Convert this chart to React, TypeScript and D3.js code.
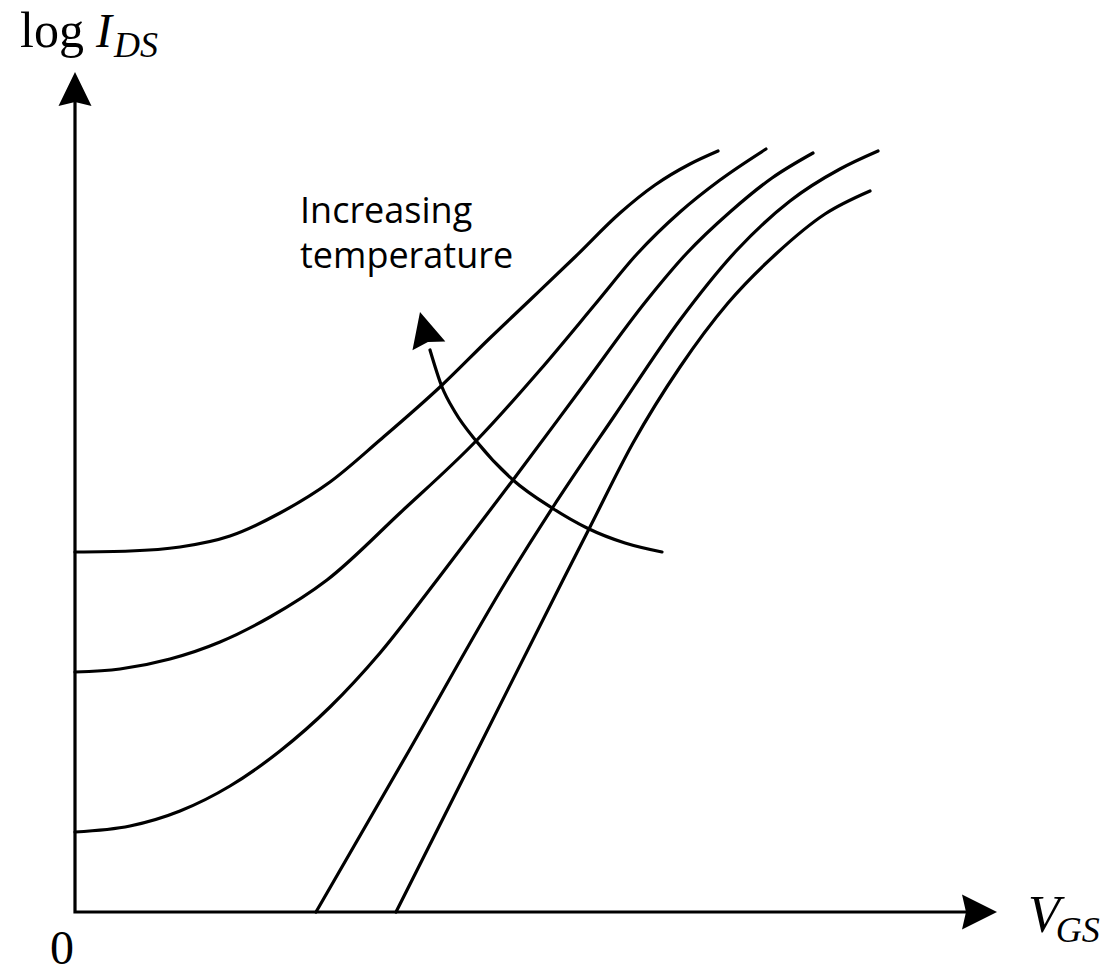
import React from "react";
import * as d3 from "d3";

// Diagram units: x = V_GS (arbitrary), y = log I_DS (arbitrary)
const curve1X = [0, 5.5, 10.5, 15.5, 20.5, 25.5, 30.5, 36.5, 41.5, 45.5, 50, 54.5, 58, 61.5, 64.3];
const curve1Y = [36, 36.1, 36.5, 37.6, 39.9, 43, 47.2, 52.5, 57.4, 61.2, 65.5, 69.9, 72.7, 74.8, 76.1];

const curve2X = [0, 4.5, 9.5, 14.5, 19.5, 25.2, 32.5, 40.2, 46.5, 52.2, 56.2, 60.5, 64.5, 69.1];
const curve2Y = [24, 24.3, 25.3, 27, 29.5, 33.2, 39.9, 47.2, 54.2, 61, 65.8, 70, 73.2, 76.3];

const curve3X = [0, 5.5, 10.5, 15.5, 20.5, 25.5, 30.5, 36.2, 43.8, 50.5, 57.2, 61.2, 65.5, 69.7, 73.8];
const curve3Y = [8, 8.6, 10.1, 12.6, 16.1, 20.5, 25.9, 33.2, 43.2, 52.2, 61.2, 65.9, 70, 73.4, 75.9];

const curve4X = [24.1, 33.5, 43.2, 47.8, 54, 60.5, 66.2, 71.5, 76.5, 80.3];
const curve4Y = [0, 16.3, 33.2, 40.5, 49.7, 59.2, 66.2, 71.1, 74.3, 76.1];

const curve5X = [32.1, 40.5, 48.8, 51.5, 55.8, 60.5, 65.3, 70.2, 75, 79.5];
const curve5Y = [0, 16.7, 33.2, 38.5, 46.9, 54.5, 60.9, 65.9, 69.8, 72.1];

// "Increasing temperature" arc arrow (ordered by increasing x)
const arcX = [35.5, 36.7, 38, 40.2, 43.8, 47.7, 51.2, 55, 58.7];
const arcY = [56.2, 52.5, 50, 47, 43.2, 40.4, 38.4, 36.9, 36];
const arcTip = [34.5, 60];

const xMax = 92.2;
const yMax = 84;

const annotationLines = ["Increasing", "temperature"];

const W = 1107;
const H = 974;

export default function App() {
  const x = d3.scaleLinear().domain([0, xMax]).range([75, 997]);
  const y = d3.scaleLinear().domain([0, yMax]).range([912, 72]);

  const line = d3
    .line<[number, number]>()
    .x((d) => x(d[0]))
    .y((d) => y(d[1]))
    .curve(d3.curveMonotoneX);

  const curves = [
    [curve1X, curve1Y],
    [curve2X, curve2Y],
    [curve3X, curve3Y],
    [curve4X, curve4Y],
    [curve5X, curve5Y],
  ].map(([xs, ys]) => xs.map((v, i) => [v, ys[i]] as [number, number]));

  const arcPts = arcX.map((v, i) => [v, arcY[i]] as [number, number]);

  const arrowHead = (tx: number, ty: number, dx: number, dy: number, len: number, half: number) => {
    const n = Math.hypot(dx, dy);
    const ux = dx / n;
    const uy = dy / n;
    const px = -uy;
    const py = ux;
    const bx = tx - ux * len;
    const by = ty - uy * len;
    const nx = tx - ux * (len - 4);
    const ny = ty - uy * (len - 4);
    return `M${tx},${ty} L${bx + px * half},${by + py * half} L${nx},${ny} L${bx - px * half},${by - py * half} Z`;
  };

  const ox = x(0);
  const oy = y(0);
  const tipArc = [x(arcTip[0]), y(arcTip[1])];
  const firstArc = arcPts[0];

  return (
    <div style={{ position: "absolute", left: 0, top: 0 }}>
      <svg width={W} height={H} style={{ display: "block", background: "#fff" }}>
        {/* axes */}
        <path
          d={`M${ox},${y(yMax) + 30} L${ox},${oy} L${x(xMax) - 30},${oy}`}
          fill="none"
          stroke="#000"
          strokeWidth={3.2}
          strokeLinejoin="miter"
        />
        <path d={arrowHead(ox, y(yMax), 0, -1, 34, 16.5)} fill="#000" />
        <path d={arrowHead(x(xMax), oy, 1, 0, 35, 17.5)} fill="#000" />

        {/* curves */}
        {curves.map((c, i) => (
          <path key={i} d={line(c) || ""} fill="none" stroke="#000" strokeWidth={3.2} strokeLinecap="round" />
        ))}

        {/* arc arrow */}
        <path d={line(arcPts) || ""} fill="none" stroke="#000" strokeWidth={3.2} strokeLinecap="round" />
        <path
          d={arrowHead(
            tipArc[0],
            tipArc[1],
            tipArc[0] - x(firstArc[0]),
            tipArc[1] - y(firstArc[1]),
            35,
            17
          )}
          fill="#000"
        />

        {/* annotation */}
        <text fontFamily="'Open Sans', sans-serif" fontSize={36} fill="#000">
          <tspan x={300} y={223}>
            {annotationLines[0]}
          </tspan>
          <tspan x={300} y={268}>
            {annotationLines[1]}
          </tspan>
        </text>

        {/* axis labels */}
        <text x={20} y={47} fontFamily="'Liberation Serif', serif" fontSize={50} fill="#000">
          log
          <tspan dx={12} fontStyle="italic" fontSize={48}>
            I
          </tspan>
          <tspan dy={10} dx={2} fontStyle="italic" fontSize={36}>
            DS
          </tspan>
        </text>
        <text x={1028} y={932} fontFamily="'Liberation Serif', serif" fill="#000">
          <tspan fontStyle="italic" fontSize={52}>
            V
          </tspan>
          <tspan dy={10} dx={-4} fontStyle="italic" fontSize={36}>
            GS
          </tspan>
        </text>
        <text x={62} y={964} textAnchor="middle" fontFamily="'Liberation Serif', serif" fontSize={48} fill="#000">
          0
        </text>
      </svg>
    </div>
  );
}
